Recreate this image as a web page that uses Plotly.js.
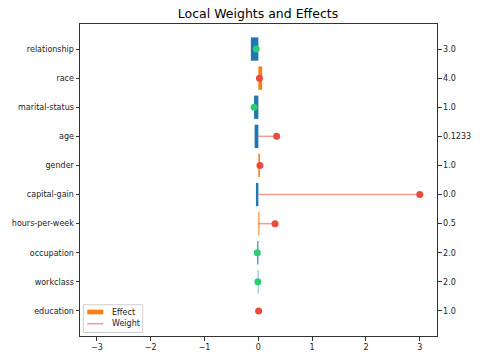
<!DOCTYPE html>
<html>
<head>
<meta charset="utf-8">
<script src="https://cdn.plot.ly/plotly-3.0.1.min.js"></script>
<style>html,body{margin:0;padding:0;background:#fff;}#chart{width:480px;height:360px;}</style>
</head>
<body>
<div id="chart"></div>
<script>
// Features listed top to bottom
var features = ["relationship","race","marital-status","age","gender","capital-gain","hours-per-week","occupation","workclass","education"];
var featureValues = ["3.0","4.0","1.0","0.1233","1.0","0.0","0.5","2.0","2.0","1.0"];
var effects = [-0.14, 0.07, -0.08, -0.07, 0.03, -0.045, 0.02, -0.02, -0.01, 0.0];
var weights = [-0.04, 0.02, -0.08, 0.34, 0.03, 3.0, 0.31, -0.02, -0.01, 0.005];
var legendLabels = ["Effect", "Weight"];

var idx = features.map(function(_, i){ return i; });

var posX = [], posY = [], negX = [], negY = [];
effects.forEach(function(e, i){
  if (e >= 0) { posX.push(e); posY.push(i); } else { negX.push(e); negY.push(i); }
});

var lineX = [], lineY = [];
weights.forEach(function(w, i){ lineX.push(0, w, null); lineY.push(i, i, null); });
var dotColors = weights.map(function(w){ return w >= 0 ? '#e74c3c' : '#2ecc71'; });

var orange = '#ff7f0e', blue = '#1f77b4', lineCol = 'rgba(231,76,60,0.55)';

var traces = [
  {type:'bar', orientation:'h', x:posX, y:posY, width:0.8, name:legendLabels[0], showlegend:false,
   marker:{color:orange, line:{width:0}}, hoverinfo:'x+y'},
  {type:'bar', orientation:'h', x:negX, y:negY, width:0.8, name:'Effect neg', showlegend:false,
   marker:{color:blue, line:{width:0}}, hoverinfo:'x+y'},
  {type:'scatter', mode:'lines', x:lineX, y:lineY, name:legendLabels[1], showlegend:false,
   line:{color:lineCol, width:1.5}, hoverinfo:'skip'},
  {type:'scatter', mode:'markers', x:weights, y:idx, showlegend:false, name:'Weight pts',
   marker:{color:dotColors, size:7, line:{width:0}}},
  {type:'scatter', mode:'markers', x:idx.map(function(){return 0;}), y:idx, yaxis:'y2',
   showlegend:false, hoverinfo:'skip', marker:{opacity:0, size:1}}
];

// plot area in pixels: x 80..437, y 24..336
function px(x){ return (x - 80) / 357; }
function py(y){ return (336 - y) / 312; }

var shapes = [
  {type:'rect', xref:'paper', yref:'paper', x0:px(83.3), x1:px(142.7), y0:py(332.5), y1:py(304.7),
   fillcolor:'rgba(255,255,255,0.8)', line:{color:'#d0d0d0', width:1}, layer:'above'},
  {type:'rect', xref:'paper', yref:'paper', x0:px(87.3), x1:px(103.3), y0:py(314.3), y1:py(309.7),
   fillcolor:orange, line:{width:0}, layer:'above'},
  {type:'line', xref:'paper', yref:'paper', x0:px(87.3), x1:px(103.3), y0:py(323.7), y1:py(323.7),
   line:{color:lineCol, width:1.5}, layer:'above'}
];
var annotations = [
  {xref:'paper', yref:'paper', x:px(110), y:py(312), text:legendLabels[0], showarrow:false,
   xanchor:'left', yanchor:'middle', font:{family:'DejaVu Sans, sans-serif', size:8, color:'#222'}},
  {xref:'paper', yref:'paper', x:px(110), y:py(323.7), text:legendLabels[1], showarrow:false,
   xanchor:'left', yanchor:'middle', font:{family:'DejaVu Sans, sans-serif', size:8, color:'#222'}}
];

var fnt = {family:'DejaVu Sans, sans-serif', size:8, color:'#222'};
var layout = {
  width:480, height:360,
  margin:{l:80, r:43, t:24, b:24},
  paper_bgcolor:'#fff', plot_bgcolor:'#fff',
  barmode:'overlay',
  title:{text:'Local Weights and Effects', font:{family:'DejaVu Sans, sans-serif', size:12.5, color:'#000'}, x:0.5375, xanchor:'center', y:0.962, yanchor:'middle'},
  font:fnt,
  showlegend:false,
  shapes:shapes,
  annotations:annotations,
  xaxis:{range:[-3.315, 3.32], tickvals:[-3,-2,-1,0,1,2,3], ticktext:['\u22123','\u22122','\u22121','0','1','2','3'],
         showgrid:false, zeroline:false, showline:true, linecolor:'#333', linewidth:1, mirror:true,
         ticks:'outside', ticklen:3.5, tickcolor:'#333', tickfont:fnt},
  yaxis:{range:[9.86, -0.86], tickvals:idx, ticktext:features, showgrid:false, zeroline:false,
         showline:true, linecolor:'#333', linewidth:1, ticks:'outside', ticklen:3.5, tickcolor:'#333', tickfont:fnt},
  yaxis2:{overlaying:'y', side:'right', range:[9.86, -0.86], tickvals:idx, ticktext:featureValues,
          showgrid:false, zeroline:false, showline:true, linecolor:'#333', linewidth:1,
          ticks:'outside', ticklen:3.5, tickcolor:'#333', tickfont:fnt}
};

Plotly.newPlot('chart', traces, layout, {displayModeBar:false, staticPlot:true});
</script>
</body>
</html>
